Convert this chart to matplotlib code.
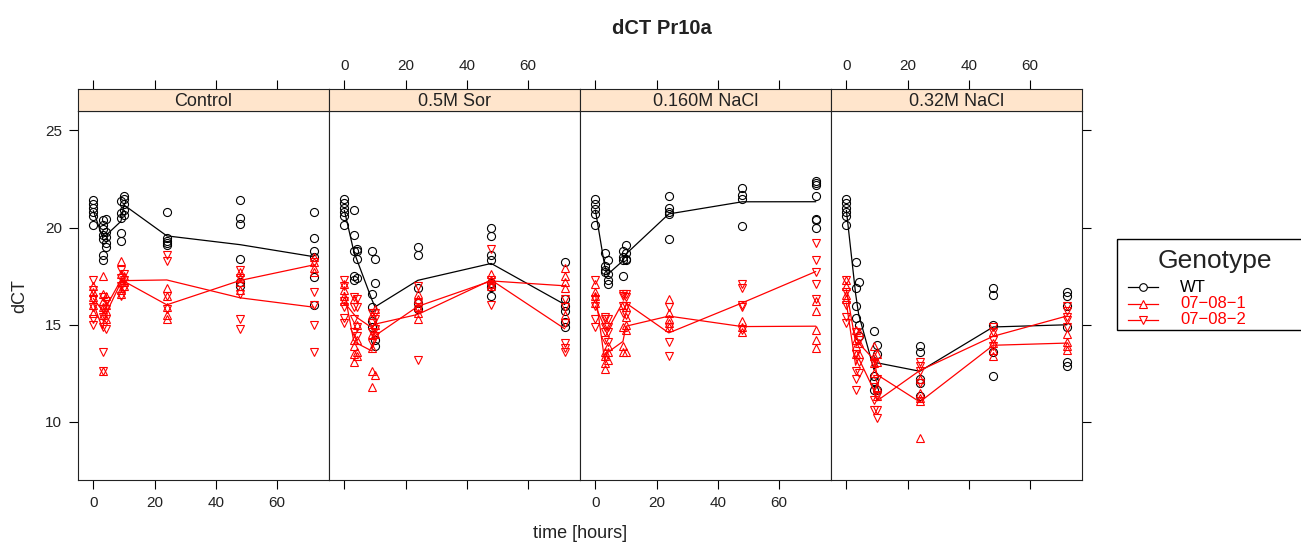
import matplotlib.pyplot as plt
import numpy as np

plt.rcParams['font.family'] = ['Liberation Sans', 'DejaVu Sans']

# sampling times (hours)
times = [0, 3, 4, 9, 10, 24, 48, 72]
treatments = ['Control', '0.5M Sor', '0.160M NaCl', '0.32M NaCl']
genotypes = ['WT', '07−08−1', '07−08−2']

# dCT replicates at each time point, one list per treatment x genotype
control_wt = [[21.4, 21.2, 21.0, 20.8, 20.6, 20.15],
              [20.4, 20.15, 19.9, 19.6, 19.4, 18.6, 18.35],
              [20.45, 19.75, 19.5, 19.2, 19.0],
              [21.35, 20.75, 20.5, 19.7, 19.3],
              [21.6, 21.45, 21.2, 20.9, 20.65],
              [20.8, 19.45, 19.3, 19.2, 19.1],
              [21.4, 20.5, 20.2, 18.4, 17.2, 17.0],
              [20.8, 19.45, 18.8, 18.5, 17.45, 16.0]]
control_l1 = [[17.0, 16.7, 16.4, 16.0, 15.6],
              [17.5, 16.6, 16.2, 15.9, 15.5, 12.6],
              [16.5, 16.0, 15.7, 15.3],
              [18.3, 17.6, 17.2, 16.8, 16.6],
              [17.5, 17.2, 17.0],
              [16.9, 16.5, 15.9, 15.5, 15.3],
              [17.7, 17.4, 17.2, 16.8],
              [18.5, 18.2, 17.9, 17.7]]
control_l2 = [[17.3, 16.8, 16.3, 15.9, 15.3, 15.0],
              [16.4, 15.8, 15.4, 14.9, 13.6, 12.6],
              [16.2, 15.8, 15.3, 14.8],
              [17.8, 17.4, 17.0, 16.5],
              [17.6, 17.3, 16.9],
              [18.6, 18.3, 16.5, 15.8],
              [17.8, 17.4, 16.6, 15.3, 14.8],
              [18.2, 16.7, 16.0, 15.0, 13.6]]

sor_wt = [[21.45, 21.25, 21.0, 20.8, 20.6, 20.15],
          [20.9, 19.6, 18.8, 17.5, 17.3],
          [18.9, 18.8, 18.4, 17.4],
          [18.8, 16.6, 15.9, 15.2, 14.9],
          [18.4, 17.15, 14.2, 13.9],
          [19.0, 18.6, 16.9, 16.1, 15.8],
          [20.0, 19.55, 18.6, 18.35, 17.15, 16.95, 16.45],
          [18.25, 16.3, 15.95, 15.7, 15.15, 14.9]]
sor_l1 = [[17.1, 16.8, 16.5, 16.2],
          [16.3, 14.2, 13.9, 13.5, 13.1],
          [15.0, 14.2, 13.6, 13.4],
          [15.5, 14.5, 13.8, 12.6, 11.8],
          [15.8, 15.0, 14.5, 12.4],
          [16.6, 16.3, 15.9, 15.6, 15.3],
          [17.6, 17.3, 17.1, 17.0],
          [17.9, 17.5, 17.2, 16.9, 15.5]]
sor_l2 = [[17.3, 17.0, 16.2, 15.9, 15.35, 15.1],
          [16.4, 15.9, 15.3, 14.6],
          [16.3, 15.9, 14.9, 14.4],
          [15.6, 15.1, 14.6, 14.05],
          [15.6, 15.3, 14.8, 14.4],
          [17.0, 16.1, 15.8, 13.2],
          [18.9, 17.3, 17.0, 16.0],
          [16.3, 15.9, 15.1, 14.05, 13.8, 13.6]]

nacl160_wt = [[21.45, 21.2, 20.95, 20.7, 20.15],
              [18.7, 18.0, 17.8, 17.7],
              [18.35, 17.6, 17.3, 17.1],
              [18.8, 18.5, 18.35, 17.5],
              [19.1, 18.7, 18.4, 18.35],
              [21.6, 21.0, 20.8, 20.7, 19.4],
              [22.05, 21.7, 21.45, 20.1],
              [22.4, 22.3, 22.2, 21.6, 20.45, 20.4, 19.95]]
nacl160_l1 = [[17.1, 16.7, 16.5, 16.1],
              [13.6, 13.4, 13.0, 12.7],
              [13.9, 13.6, 13.2],
              [14.9, 13.9, 13.6],
              [15.9, 15.4, 15.0, 14.7, 13.6],
              [16.3, 15.6, 15.3, 15.1, 14.9],
              [15.2, 14.9, 14.6],
              [16.2, 15.7, 14.7, 14.2, 13.8]]
nacl160_l2 = [[17.3, 16.3, 15.95, 15.3, 14.9],
              [15.4, 15.3, 14.9, 14.6, 14.2],
              [15.3, 14.9, 14.6, 14.1],
              [16.6, 16.5, 15.95, 15.6],
              [16.6, 16.4, 15.95, 15.5],
              [15.9, 14.9, 14.1, 13.4],
              [17.1, 16.9, 16.0, 15.9, 14.7],
              [19.2, 18.35, 17.7, 17.1, 16.3]]

nacl320_wt = [[21.45, 21.25, 21.0, 20.8, 20.6, 20.15],
              [18.2, 16.9, 15.95, 15.35],
              [17.2, 15.0, 14.4],
              [14.65, 12.35, 12.1, 11.65],
              [13.95, 13.5, 11.65],
              [13.9, 13.6, 12.2, 12.0, 11.3],
              [16.9, 16.55, 15.0, 13.6, 12.35],
              [16.7, 16.45, 15.95, 14.9, 13.1, 12.85]]
nacl320_l1 = [[17.3, 17.0, 16.55, 16.3],
              [14.7, 14.2, 13.9, 13.5],
              [14.6, 14.05, 13.5],
              [13.9, 13.4, 13.0, 12.5],
              [13.5, 13.1, 11.8, 11.3],
              [12.2, 11.5, 11.2, 11.05, 9.15],
              [14.6, 14.05, 13.7, 13.4],
              [14.5, 14.1, 13.9, 13.7]]
nacl320_l2 = [[17.3, 16.7, 16.0, 15.4, 15.1],
              [14.6, 13.5, 12.6, 12.2, 11.65],
              [14.2, 13.1, 12.5],
              [13.0, 11.8, 11.1, 10.6],
              [12.2, 11.3, 10.6, 10.2],
              [13.1, 12.85, 12.6, 12.0],
              [14.9, 14.6, 14.2, 13.9],
              [15.95, 15.7, 15.4, 15.25, 14.9]]

panels = [(control_wt, control_l1, control_l2),
          (sor_wt, sor_l1, sor_l2),
          (nacl160_wt, nacl160_l1, nacl160_l2),
          (nacl320_wt, nacl320_l1, nacl320_l2)]

colors = ['black', '#FF0000', '#FF0000']
markers = ['o', '^', 'v']
xticks = [0, 20, 40, 60]
yticks = [10, 15, 20, 25]
xlim = (-5.04, 77.04)
ylim = (7.0, 26.0)

W, H = 1301, 542
fig = plt.figure(figsize=(W / 100, H / 100), dpi=100)

def frac(x0, y_top, w, h):
    # pixel box (from top-left) -> figure fraction rect
    return [x0 / W, (H - y_top - h) / H, w / W, h / H]

left, pw, top, ph, sh = 78, 251, 111, 369, 22
tick_kw = dict(direction='out', length=6.5, width=0.8, labelsize=11, pad=5,
               labelcolor='#222222')

for i, (name, series) in enumerate(zip(treatments, panels)):
    ax = fig.add_axes(frac(left + i * pw, top, pw, ph))
    for data, c, m in zip(series, colors, markers):
        for t, vals in zip(times, data):
            ax.plot([t] * len(vals), vals, linestyle='none', marker=m,
                    markersize=5.8, markerfacecolor='none',
                    markeredgecolor=c, markeredgewidth=0.8)
        means = [np.mean(v) for v in data]
        ax.plot(times, means, color=c, lw=0.9)
    ax.set_xlim(*xlim)
    ax.set_ylim(*ylim)
    for s in ax.spines.values():
        s.set_linewidth(0.8)
        s.set_color('#222222')
    ax.set_xticks(xticks)
    ax.set_xticklabels([str(v) for v in xticks] if i % 2 == 0 else [])
    ax.tick_params(axis='x', **tick_kw)
    ax.set_yticks(yticks)
    if i == 0:
        ax.tick_params(axis='y', left=True, right=False, labelleft=True, **tick_kw)
    elif i == 3:
        ax.tick_params(axis='y', left=False, right=True, labelleft=False,
                       labelright=False, **tick_kw)
    else:
        ax.tick_params(axis='y', left=False, labelleft=False)

    # strip with treatment name, top axis ticks sit on it
    st = fig.add_axes(frac(left + i * pw, top - sh, pw, sh))
    st.set_facecolor('#FFE5CC')
    st.set_xlim(*xlim)
    st.set_yticks([])
    st.set_xticks(xticks)
    st.xaxis.set_ticks_position('top')
    st.set_xticklabels([str(v) for v in xticks] if i % 2 == 1 else [])
    st.tick_params(axis='x', **tick_kw)
    for s in st.spines.values():
        s.set_linewidth(0.8)
        s.set_color('#222222')
    st.text(0.5, 0.45, name, transform=st.transAxes, ha='center',
            va='center', fontsize=13, color='#222222')

fig.text(662 / W, 1 - 28 / H, 'dCT Pr10a', ha='center', va='center',
         fontsize=14.5, fontweight='bold', color='#222222')
fig.text(580 / W, 1 - 533 / H, 'time [hours]', ha='center', va='center',
         fontsize=13, color='#222222')
fig.text(20 / W, 1 - 296 / H, 'dCT', ha='center', va='center',
         fontsize=13, rotation=90, color='#222222')

# legend box drawn on an overlay in pixel units
lg = fig.add_axes([0, 0, 1, 1])
lg.set_xlim(0, W)
lg.set_ylim(H, 0)
lg.axis('off')
lg.add_patch(plt.Rectangle((1117, 239), 200, 91, fill=False, lw=1.0,
                           edgecolor='black', clip_on=False))
lg.text(1215, 261, 'Genotype', ha='center', va='center', fontsize=19,
        color='#222222')
for k, (g, c, m) in enumerate(zip(genotypes, colors, markers)):
    yy = 287 + k * 16.5
    lg.plot([1128, 1158], [yy, yy], color=c, lw=0.9)
    lg.plot([1143], [yy], marker=m, markersize=5.5, markerfacecolor='white',
            markeredgecolor=c, markeredgewidth=0.8)
    lg.text(1180, yy, g, color=c, ha='left', va='center', fontsize=12)

fig.savefig('out.png', dpi=100)
